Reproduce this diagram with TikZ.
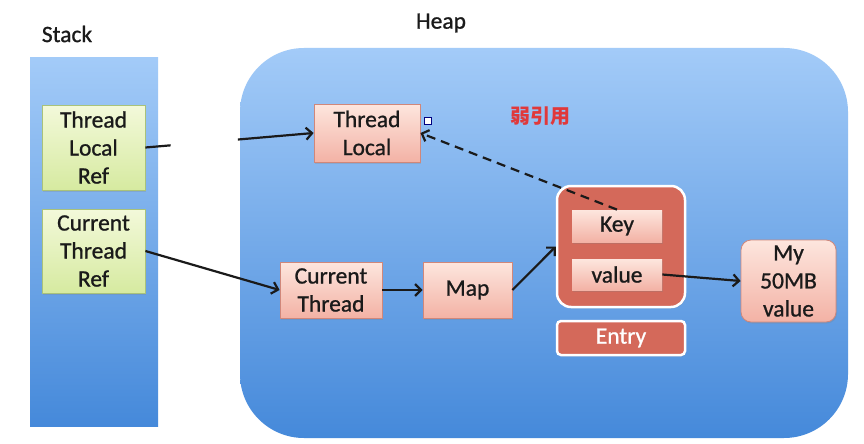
\documentclass[tikz,border=0pt]{standalone}
\usepackage{fontspec}
\setmainfont{Carlito}[FakeBold=0.9]
\newfontfamily\cjkfont{Noto Sans CJK SC}
\usetikzlibrary{arrows.meta,shadows,calc}
\definecolor{bluetop}{HTML}{A3CBF8}
\definecolor{bluebot}{HTML}{4589DA}
\definecolor{greentop}{HTML}{F3F9DA}
\definecolor{greenbot}{HTML}{D6EAA0}
\definecolor{greenline}{HTML}{A9C27A}
\definecolor{pinktop}{HTML}{FDE6DE}
\definecolor{pinkbot}{HTML}{F3B2A5}
\definecolor{pinkline}{HTML}{D0877A}
\definecolor{entryred}{HTML}{D4695A}
\definecolor{weakred}{HTML}{E0383A}
\definecolor{txt}{HTML}{1A1A1A}
\tikzset{
  area/.style={draw=none, top color=bluetop, bottom color=bluebot, inner sep=0pt},
  greenbox/.style={draw=greenline, line width=0.8pt, top color=greentop, bottom color=greenbot,
    align=center, text=txt, inner sep=0pt, font=\fontsize{23.5}{28}\selectfont,
    drop shadow={opacity=0.25, shadow xshift=1pt, shadow yshift=-1.5pt}},
  pinkbox/.style={draw=pinkline, line width=0.8pt, top color=pinktop, bottom color=pinkbot,
    align=center, text=txt, inner sep=0pt, font=\fontsize{23.5}{28}\selectfont,
    drop shadow={opacity=0.25, shadow xshift=1pt, shadow yshift=-1.5pt}},
  entrybox/.style={draw=white, line width=2.5pt, fill=entryred, inner sep=0pt,
    drop shadow={opacity=0.25, shadow xshift=1pt, shadow yshift=-1.5pt}},
  conn/.style={draw=txt, line width=2.2pt, -{Straight Barb[length=6pt,width=12pt]}},
  lbl/.style={text=txt, font=\fontsize{23.5}{28}\selectfont, inner sep=0pt}
}
\begin{document}
\begin{tikzpicture}[x=1pt,y=-1pt]
\useasboundingbox (0,0) rectangle (864,444);
\fill[white] (0,0) rectangle (864,444);
% stack
\node[lbl] (stacklbl) at (67,34) {Stack};
\node[area, minimum width=128, minimum height=368] (stack) at (94,242) {};
\node[greenbox, minimum width=103, minimum height=85] (tlr) at (93.5,147.5) {Thread\\Local\\Ref};
\node[greenbox, minimum width=103, minimum height=84] (ctr) at (93.5,251) {Current\\Thread\\Ref};
% heap
\node[lbl] (heaplbl) at (441,23) {Heap};
\node[area, rounded corners=64, minimum width=608, minimum height=390] (heap) at (544,243) {};
\node[pinkbox, minimum width=106, minimum height=58] (tl) at (367,133) {Thread\\Local};
\node[draw=blue!50!black, fill=white, line width=0.8pt, minimum size=7, inner sep=0pt] (sq) at (428,121) {};
\node[text=weakred, font=\cjkfont\bfseries\fontsize{20}{22}\selectfont, inner sep=0pt] (weak) at (540,116) {弱引用};
\node[pinkbox, minimum width=102, minimum height=56] (ct) at (331,290) {Current\\Thread};
\node[pinkbox, minimum width=89, minimum height=56] (map) at (467.5,290) {Map};
\node[entrybox, rounded corners=14, minimum width=128, minimum height=121] (entry) at (621,246.5) {};
\node[pinkbox, draw=none, minimum width=90, minimum height=32] (key) at (617,226) {Key};
\node[pinkbox, draw=none, minimum width=90, minimum height=31] (val) at (617,274.5) {value};
\node[entrybox, rounded corners=4, minimum width=128, minimum height=34, text=white,
  font=\fontsize{23.5}{28}\selectfont] (entrylbl) at (621,338) {Entry};
\node[pinkbox, rounded corners=10, minimum width=95, minimum height=82] (my) at (788.5,281) {My\\50MB\\value};
% connectors
\draw[draw=txt, line width=2.2pt] (tlr.east) -- ($(tlr.east)!0.15!(tl.west)$);
\draw[conn] ($(tlr.east)!0.55!(tl.west)$) -- (tl.west);
\draw[conn] (ctr.east) -- (ct.west);
\draw[conn] (ct.east) -- (map.west);
\draw[conn] (map.east) -- (entry.west);
\draw[conn] (val.east) -- (my.west);
\draw[conn, dashed, dash pattern=on 9pt off 6pt] (key.north) -- (tl.east);
\end{tikzpicture}
\end{document}
